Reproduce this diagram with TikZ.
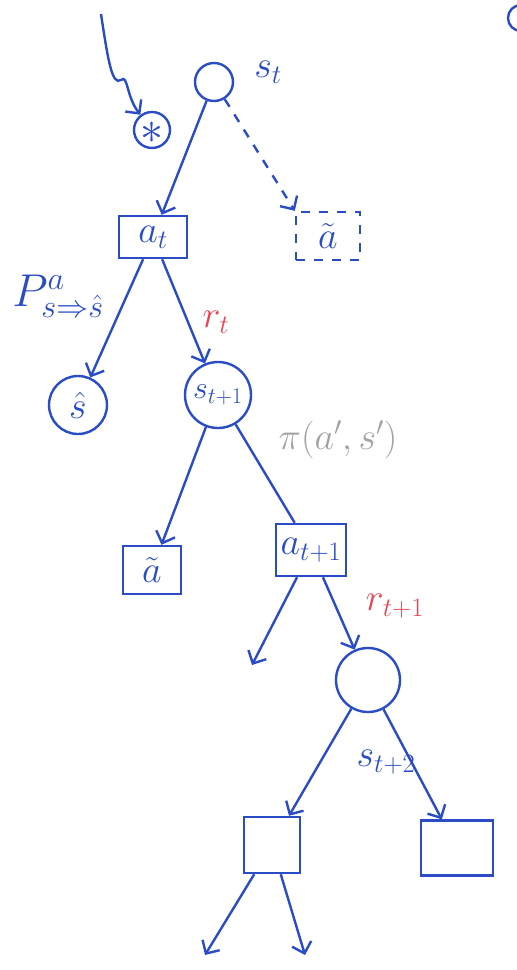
\documentclass[tikz,border=0pt]{standalone}
\usepackage{fix-cm}
\usepackage{amsmath}
\usepackage{xcolor}
\usepackage{tikz}
\usetikzlibrary{positioning,arrows.meta}
\definecolor{penblue}{HTML}{2A4CC4}
\definecolor{penred}{HTML}{E84452}
\definecolor{pengray}{HTML}{A3A3A3}

\begin{document}
\begin{tikzpicture}[x=1pt, y=-1pt, font=\fontsize{38}{42}\selectfont, line width=2.4pt, penblue,
  state/.style={draw, circle, inner sep=1pt},
  act/.style={draw, rectangle, inner sep=1pt},
  arr/.style={-{Straight Barb[length=10pt, width=20pt]}},
  pendash/.style={dash pattern=on 9pt off 9pt}]
\clip (0,0) rectangle (517,970);
\fill[white] (0,0) rectangle (517,970);
% root
\node[state, minimum size=38pt] (st) at (214,82) {}; \node (stlbl) at (268,72) {$s_t$};
\node[state, minimum size=36pt, inner sep=0pt, font=\fontsize{46}{48}\selectfont] (star) at (152,130) {\raisebox{-6pt}[14pt][0pt]{$\ast$}};
\coordinate (wv) at (101,14);
\draw[arr] (wv) .. controls (108,60) and (112,86) .. (121,80) .. controls (128,74) and (126,96) .. (star);
\node[state, minimum size=26pt] (corner) at (521,18) {};
\node[act, minimum width=68pt, minimum height=42pt] (at) at (153,237) {$a_t$};
\node[act, pendash, minimum width=64pt, minimum height=48pt] (atil1) at (328,236) {$\tilde a$};
\draw[arr] (st) -- (at); \draw[arr, pendash] (st) -- (atil1.north west);
% first transition
\node[font=\fontsize{46}{50}\selectfont] (plbl) at (58,296) {$P^{a}_{s\Rightarrow\hat s}$};
\node[state, minimum size=58pt] (shat) at (78,405) {$\hat s$};
\node[state, minimum size=66pt, inner sep=0pt, font=\fontsize{32}{36}\selectfont] (st1) at (218,395) {$s_{t+1}$};
\node[penred] (rt) at (216,322) {$r_t$};
\draw[arr] (at) -- (shat); \draw[arr] (at) -- (st1);
\node[pengray] (pi) at (338,440) {$\pi(a',s')$};
% second level
\node[act, minimum width=58pt, minimum height=48pt] (atil2) at (152,570) {$\tilde a$};
\node[act, minimum width=70pt, minimum height=52pt, inner sep=0pt] (at1) at (311,550) {$a_{t+1}$};
\draw[arr] (st1) -- (atil2); \draw (st1) -- (at1);
\coordinate (e1) at (252,665);
\node[state, minimum size=64pt] (st2) at (368,680) {};
\node[penred] (rt1) at (395,606) {$r_{t+1}$};
\draw[arr] (at1) -- (e1); \draw[arr] (at1) -- (st2);
\node (st2lbl) at (386,762) {$s_{t+2}$};
% leaves
\node[act, minimum width=56pt, minimum height=56pt] (b1) at (272,845) {};
\node[act, minimum width=72pt, minimum height=55pt] (b2) at (457,848) {};
\draw[arr] (st2) -- (b1); \draw[arr] (st2) -- (b2);
\coordinate (e2) at (205,955); \coordinate (e3) at (305,955);
\draw[arr] (b1) -- (e2); \draw[arr] (b1) -- (e3);
\end{tikzpicture}
\end{document}
